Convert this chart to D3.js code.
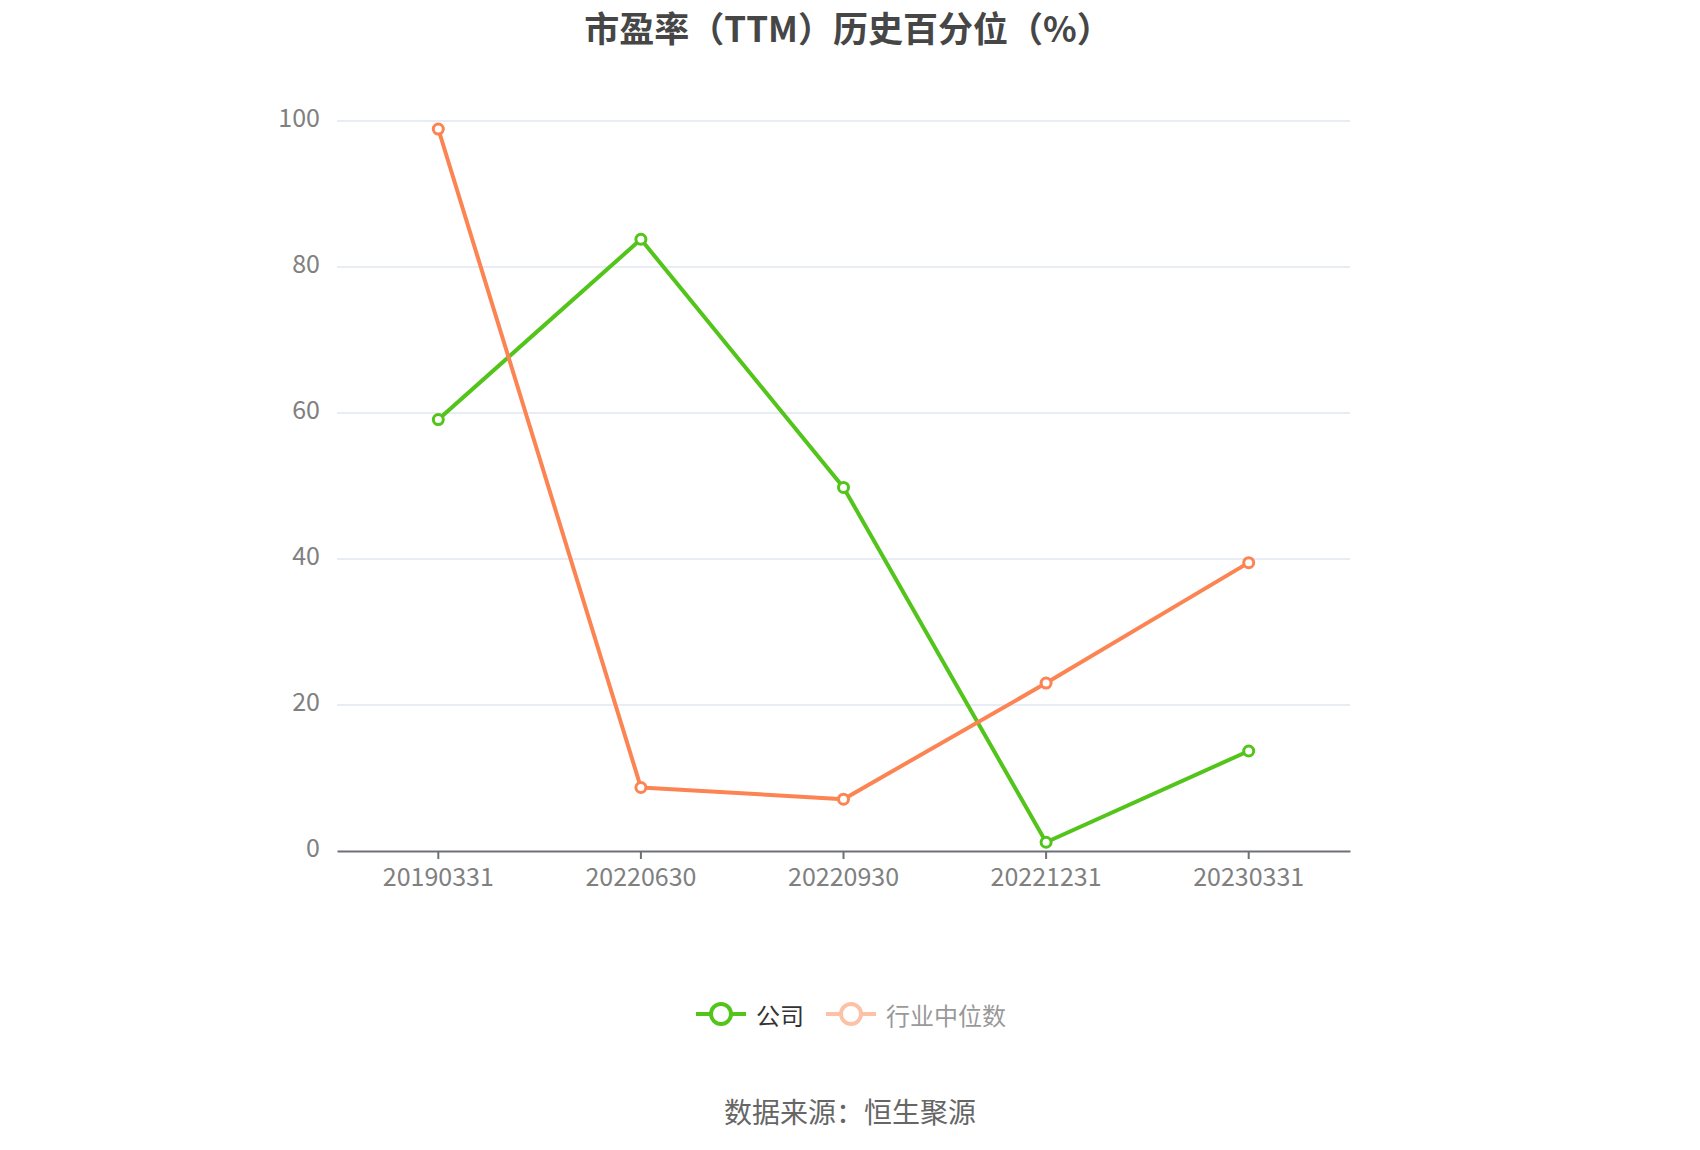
<!DOCTYPE html>
<html>
<head>
<meta charset="utf-8">
<script src="https://cdn.jsdelivr.net/npm/d3@7"></script>
<style>
  body { margin: 0; background: #fff; }
  text { font-family: "Noto Sans CJK SC", "Noto Sans", sans-serif; }
</style>
</head>
<body>
<div id="chart"></div>
<script>
// Datos
const fechas = ["20190331", "20220630", "20220930", "20221231", "20230331"]
const empresa = [59.1, 83.8, 49.8, 1.2, 13.7]
const industria = [98.9, 8.7, 7.1, 23.0, 39.5]
const ticksY = [0, 20, 40, 60, 80, 100]
const nombres = ["公司", "行业中位数"]

const verde = "#52c41a"
const naranja = "#fc8452"

const draw = () => {
  const ancho = 1700
  const alto = 1150
  const margen = { left: 337, right: 350, top: 121, bottom: 851 }

  const svg = d3
    .select("#chart")
    .append("svg")
    .attr("width", ancho)
    .attr("height", alto)

  // Escaladores
  const x = d3.scaleBand().domain(fechas).range([margen.left, ancho - margen.right])
  const y = d3.scaleLinear().domain([0, 100]).range([margen.bottom, margen.top])
  const cx = (d) => x(d) + x.bandwidth() / 2

  // Titulo
  svg
    .append("text")
    .attr("x", 848)
    .attr("y", 42)
    .attr("text-anchor", "middle")
    .attr("font-size", 35)
    .attr("font-weight", "bold")
    .attr("fill", "#464646")
    .text("市盈率（TTM）历史百分位（%）")

  // Grilla
  svg
    .append("g")
    .selectAll("line")
    .data(ticksY.filter((d) => d > 0))
    .join("line")
    .attr("x1", margen.left)
    .attr("x2", ancho - margen.right)
    .attr("y1", (d) => y(d))
    .attr("y2", (d) => y(d))
    .attr("stroke", "#e0e6f1")
    .attr("stroke-width", 1.5)

  // Eje Y
  const ejeY = svg
    .append("g")
    .attr("transform", `translate(${margen.left - 17}, 0)`)
    .call(d3.axisLeft(y).tickValues(ticksY).tickSize(0).tickPadding(0))
  ejeY.select(".domain").remove()
  ejeY
    .selectAll("text")
    .attr("font-size", 25)
    .attr("fill", "#808080")
    .attr("dy", "0.22em")

  // Eje X
  const ejeX = svg
    .append("g")
    .attr("transform", `translate(0, ${margen.bottom})`)
    .call(d3.axisBottom(x).tickSize(8).tickPadding(9).tickSizeOuter(0))
  ejeX.select(".domain").attr("stroke", "#6e7079").attr("stroke-width", 2)
  ejeX.selectAll(".tick line").attr("stroke", "#6e7079").attr("stroke-width", 2)
  ejeX.selectAll("text").attr("font-size", 25).attr("fill", "#808080")

  // Series
  const series = [
    { nombre: nombres[0], valores: empresa, color: verde },
    { nombre: nombres[1], valores: industria, color: naranja },
  ]

  const linea = d3
    .line()
    .x((d, i) => cx(fechas[i]))
    .y((d) => y(d))

  series.forEach((s) => {
    const g = svg.append("g")
    g.append("path")
      .attr("d", linea(s.valores))
      .attr("fill", "none")
      .attr("stroke", s.color)
      .attr("stroke-width", 4)
      .attr("stroke-linejoin", "round")
    g.selectAll("circle")
      .data(s.valores)
      .join("circle")
      .attr("cx", (d, i) => cx(fechas[i]))
      .attr("cy", (d) => y(d))
      .attr("r", 5)
      .attr("fill", "#fff")
      .attr("stroke", s.color)
      .attr("stroke-width", 3)
  })

  // Leyenda
  const leyenda = svg
    .append("g")
    .selectAll("g")
    .data(series)
    .join("g")
    .attr("transform", (d, i) => `translate(${696 + i * 130}, 1014)`)
    .attr("opacity", (d, i) => (i === 0 ? 1 : 0.5))

  leyenda
    .append("line")
    .attr("x1", 0)
    .attr("x2", 50)
    .attr("stroke", (d) => d.color)
    .attr("stroke-width", 4)
  leyenda
    .append("circle")
    .attr("cx", 25)
    .attr("r", 10)
    .attr("fill", "#fff")
    .attr("stroke", (d) => d.color)
    .attr("stroke-width", 4)
  leyenda
    .append("text")
    .attr("x", 60)
    .attr("dominant-baseline", "central")
    .attr("font-size", 24)
    .attr("fill", "#333")
    .text((d) => d.nombre)

  // Fuente
  svg
    .append("text")
    .attr("x", 850)
    .attr("y", 1111)
    .attr("text-anchor", "middle")
    .attr("dominant-baseline", "central")
    .attr("font-size", 28)
    .attr("fill", "#666")
    .text("数据来源：恒生聚源")
}

draw()
</script>
</body>
</html>
